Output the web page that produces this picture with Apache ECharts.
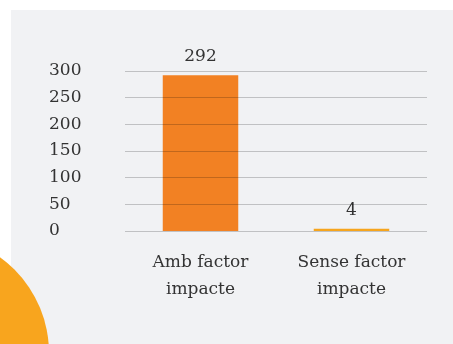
<!DOCTYPE html>
<html>
<head>
<meta charset="utf-8">
<script src="https://cdn.jsdelivr.net/npm/echarts@6/dist/echarts.min.js"></script>
<style>
  html, body { margin: 0; padding: 0; background: #ffffff; }
  #chart { width: 453px; height: 344px; }
</style>
</head>
<body>
<div id="chart"></div>
<script>
// Categories and values of the bar chart
const categories = ['Amb factor\nimpacte', 'Sense factor\nimpacte'];
const values = [292, 4];
const barColors = ['#f28123', '#f6a51d'];
const yTicks = [0, 50, 100, 150, 200, 250, 300];

const FONT = 'DejaVu Serif';
const TEXT = '#333333';

const chart = echarts.init(document.getElementById('chart'), null, { renderer: 'canvas' });

chart.setOption({
  animation: false,
  backgroundColor: '#ffffff',
  graphic: [
    {
      type: 'rect',
      z: -10,
      shape: { x: 11, y: 10, width: 460, height: 350 },
      style: { fill: '#f1f2f4' }
    },
    {
      type: 'circle',
      z: -5,
      shape: { cx: -69, cy: 353, r: 118 },
      style: { fill: '#f8a51e' }
    }
  ],
  grid: { left: 125, right: 26, top: 71, bottom: 113 },
  xAxis: {
    type: 'category',
    data: categories,
    axisLine: { show: false },
    axisTick: { show: false },
    axisLabel: {
      margin: 18,
      fontFamily: FONT,
      fontSize: 17,
      lineHeight: 27,
      color: TEXT
    }
  },
  yAxis: {
    type: 'value',
    min: yTicks[0],
    max: yTicks[yTicks.length - 1],
    interval: yTicks[1] - yTicks[0],
    z: 3,
    axisLine: { show: false },
    axisTick: { show: false },
    splitLine: { lineStyle: { color: 'rgba(0,0,0,0.2)', width: 1.2 } },
    axisLabel: {
      align: 'left',
      margin: 76,
      fontFamily: FONT,
      fontSize: 17,
      color: TEXT
    }
  },
  series: [{
    type: 'bar',
    barWidth: '50%',
    data: values.map((v, i) => ({ value: v, itemStyle: { color: barColors[i] } })),
    label: {
      show: true,
      position: 'top',
      distance: 10,
      fontFamily: FONT,
      fontSize: 17,
      color: TEXT
    }
  }]
});
</script>
</body>
</html>
